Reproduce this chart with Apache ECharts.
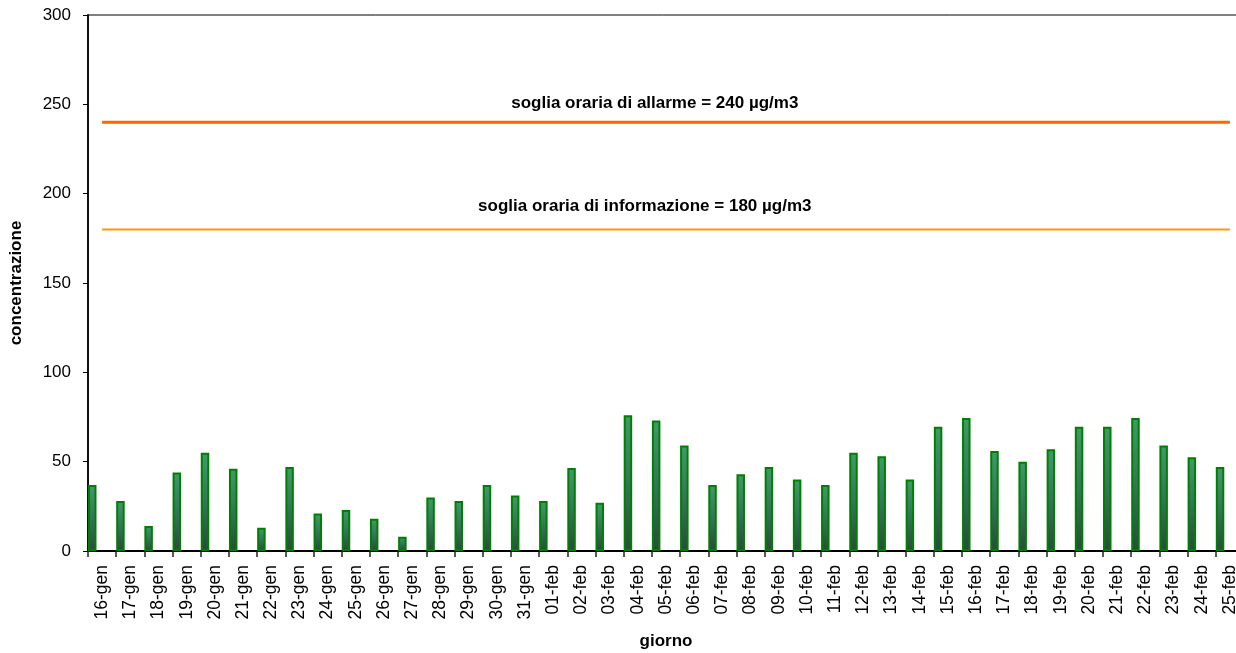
<!DOCTYPE html>
<html>
<head>
<meta charset="utf-8">
<script src="https://cdn.jsdelivr.net/npm/echarts@6/dist/echarts.min.js"></script>
<style>
  html, body { margin: 0; padding: 0; background: #fff; }
  #main { width: 1236px; height: 653px; }
</style>
</head>
<body>
<div id="main"></div>
<script>
// giorni (gennaio / febbraio)
var giorni = [
  '16-gen', '17-gen', '18-gen', '19-gen', '20-gen', '21-gen', '22-gen', '23-gen',
  '24-gen', '25-gen', '26-gen', '27-gen', '28-gen', '29-gen', '30-gen', '31-gen',
  '01-feb', '02-feb', '03-feb', '04-feb', '05-feb', '06-feb', '07-feb', '08-feb',
  '09-feb', '10-feb', '11-feb', '12-feb', '13-feb', '14-feb', '15-feb', '16-feb',
  '17-feb', '18-feb', '19-feb', '20-feb', '21-feb', '22-feb', '23-feb', '24-feb',
  '25-feb'
];
// concentrazione massima oraria
var concentrazione = [
  37, 28, 14, 44, 55, 46, 13, 47,
  21, 23, 18, 8, 30, 28, 37, 31,
  28, 46.5, 27, 76, 73, 59, 37, 43,
  47, 40, 37, 55, 53, 40, 69.5, 74.5,
  56, 50, 57, 69.5, 69.5, 74.5, 59, 52.5,
  47
];
var sogliaAllarme = 240;
var sogliaInformazione = 180;
var yTicks = [0, 50, 100, 150, 200, 250, 300];

var FONT = 'Liberation Sans, Arial, sans-serif';

var myChart = echarts.init(document.getElementById('main'));
var option = {
  backgroundColor: '#fff',
  animation: false,
  textStyle: { fontFamily: FONT },
  grid: {
    left: 88, top: 15, right: -8, bottom: 102,
    outerBoundsMode: 'none',
    containLabel: false,
    show: true, borderColor: '#000', borderWidth: 1
  },
  xAxis: {
    type: 'category',
    data: giorni,
    boundaryGap: true,
    name: 'giorno',
    nameLocation: 'middle',
    nameGap: 82,
    nameTextStyle: { fontFamily: FONT, fontWeight: 'bold', fontSize: 17, color: '#000' },
    axisLine: { lineStyle: { color: '#000', width: 2 } },
    axisTick: { show: true, length: 6, lineStyle: { color: '#222', width: 1.5 } },
    axisLabel: { rotate: 90, margin: 14, fontSize: 17.5, color: '#000', fontFamily: FONT, interval: 0 },
    splitLine: { show: false }
  },
  yAxis: {
    type: 'value',
    min: yTicks[0],
    max: yTicks[yTicks.length - 1],
    interval: 50,
    name: 'concentrazione',
    nameLocation: 'middle',
    nameGap: 63,
    nameRotate: 90,
    nameTextStyle: { fontFamily: FONT, fontWeight: 'bold', fontSize: 17, color: '#000' },
    axisLine: { show: true, lineStyle: { color: '#111', width: 2 } },
    axisTick: { show: true, length: 5, lineStyle: { color: '#000', width: 1 } },
    axisLabel: { margin: 17, fontSize: 17, color: '#000', fontFamily: FONT },
    splitLine: { show: false }
  },
  series: [
    {
      name: 'concentrazione',
      type: 'bar',
      data: concentrazione,
      barWidth: 8.5,
      barGap: '132%',
      itemStyle: {
        color: new echarts.graphic.LinearGradient(0, 0, 0, 1, [
          { offset: 0, color: '#3f9a6a' },
          { offset: 0.5, color: '#33755a' },
          { offset: 1, color: '#2a4a3c' }
        ]),
        borderColor: '#008000',
        borderWidth: 2
      }
    },
    {
      // segnaposto: sposta le barre a sinistra della categoria
      name: 'vuoto',
      type: 'bar',
      data: [],
      barWidth: 8.5,
      silent: true
    },
    {
      name: 'allarme',
      type: 'line',
      data: giorni.map(function () { return sogliaAllarme; }),
      symbol: 'none',
      lineStyle: { color: '#ff6600', width: 3 },
      markPoint: {
        symbolSize: 0,
        data: [{
          coord: [19, sogliaAllarme],
          label: {
            show: true,
            formatter: 'soglia oraria di allarme = 240 \u00b5g/m3',
            offset: [17, -19],
            fontSize: 17, fontWeight: 'bold', color: '#000', fontFamily: FONT
          }
        }]
      }
    },
    {
      name: 'informazione',
      type: 'line',
      data: giorni.map(function () { return sogliaInformazione; }),
      symbol: 'none',
      lineStyle: { color: '#ff9900', width: 2 },
      markPoint: {
        symbolSize: 0,
        data: [{
          coord: [19, sogliaInformazione],
          label: {
            show: true,
            formatter: 'soglia oraria di informazione = 180 \u00b5g/m3',
            offset: [7, -23],
            fontSize: 17, fontWeight: 'bold', color: '#000', fontFamily: FONT
          }
        }]
      }
    }
  ]
};
myChart.setOption(option);
</script>
</body>
</html>
